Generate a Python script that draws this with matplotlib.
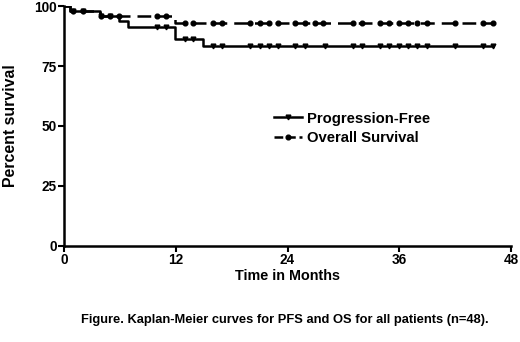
import matplotlib
matplotlib.use("Agg")
import matplotlib.pyplot as plt

plt.rcParams['font.family'] = ['Liberation Sans', 'DejaVu Sans']

# step curves (time in months, percent surviving)
pfs_t = [0, 0.7, 3.9, 5.9, 6.9, 11.9, 14.9, 46.1]
pfs_s = [100, 97.9, 95.8, 93.7, 91.4, 86.3, 83.5, 83.5]
os_t = [0, 0.7, 3.9, 11.9, 46.1]
os_s = [100, 97.9, 95.8, 93.0, 93.0]

# censor marks
pfs_cens = [1.0, 2.0, 4.0, 4.9, 10.0, 11.0, 13.0, 13.9, 16, 17, 20, 21, 22, 23,
            24.8, 25.9, 28.0, 31.0, 32.0, 33.9, 34.9, 36.0, 36.9, 37.9, 39.0,
            42.0, 45.0, 46.1]
os_cens = [1.0, 2.0, 4.0, 4.9, 5.9, 10.0, 11.0, 13.0, 13.9, 16, 17, 20, 21, 22,
           23, 24.8, 25.9, 26.9, 27.8, 31.0, 32.0, 33.9, 34.9, 36.0, 36.9, 37.9,
           39.0, 42.0, 45.0, 46.1]


def surv_at(ts, ss, t):
    v = ss[0]
    for a, b in zip(ts, ss):
        if a <= t:
            v = b
    return v


fig = plt.figure(figsize=(5.2, 3.42), dpi=100)
ax = fig.add_axes([0.123, 0.282, 0.860, 0.700])

ax.step(pfs_t, pfs_s, where='post', color='black', lw=1.8)
ax.plot(pfs_cens, [surv_at(pfs_t, pfs_s, t) for t in pfs_cens], 'v',
        color='black', ms=3.4, ls='none')
ax.step(os_t, os_s, where='post', color='black', lw=1.8, dashes=(5.5, 2.8))
ax.plot(os_cens, [surv_at(os_t, os_s, t) for t in os_cens], 'o',
        color='black', ms=3.4, ls='none')

# legend handles
ax.plot([], [], color='black', lw=1.8, marker='v', ms=3.4, label='Progression-Free')
ax.plot([], [], color='black', lw=1.8, marker='o', ms=3.4, dashes=(3.5, 1.5),
        label='Overall Survival')
h, l = ax.get_legend_handles_labels()
leg = ax.legend(h, l, loc='upper left', bbox_to_anchor=(0.44, 0.615),
                frameon=False, handlelength=1.9, handletextpad=0.3,
                labelspacing=0.35, prop={'weight': 'bold', 'size': 10.7})

ax.set_xlim(0, 48)
ax.set_ylim(0, 100)
ax.set_xticks([0, 12, 24, 36, 48])
ax.set_yticks([0, 25, 50, 75, 100])
for s in ['top', 'right']:
    ax.spines[s].set_visible(False)
for s in ['left', 'bottom']:
    ax.spines[s].set_linewidth(1.8)
ax.tick_params(width=1.5, length=4, labelsize=9.8, pad=1)
for lab in ax.get_xticklabels() + ax.get_yticklabels():
    lab.set_fontweight('bold')

ax.set_xlabel('Time in Months', fontsize=10.4, fontweight='bold', labelpad=2)
ax.set_ylabel('Percent survival', fontsize=11.4, fontweight='bold', labelpad=12)

fig.text(0.548, 0.064, 'Figure. Kaplan-Meier curves for PFS and OS for all patients (n=48).',
         ha='center', va='center', fontsize=9.3, fontweight='bold',
         family=['Liberation Sans Narrow', 'Liberation Sans', 'DejaVu Sans'])

fig.savefig('out.png', dpi=100)
